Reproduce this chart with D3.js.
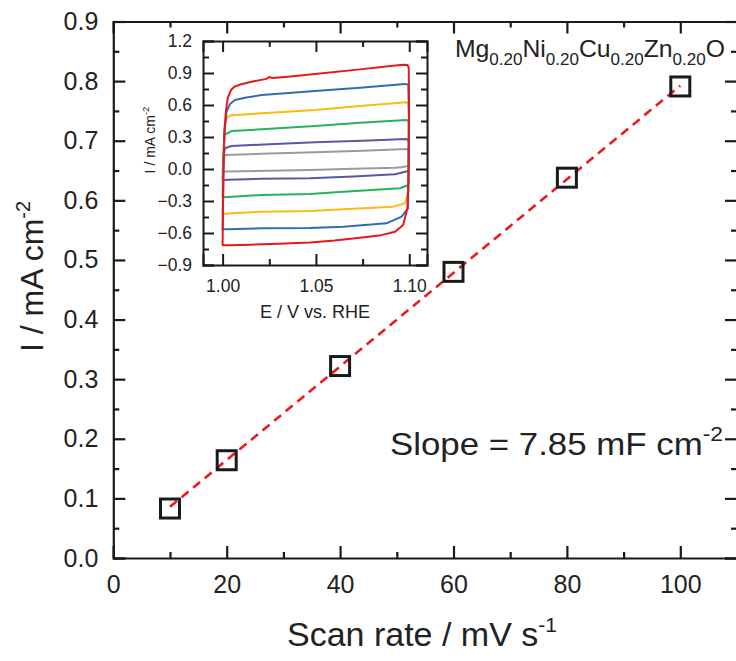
<!DOCTYPE html>
<html><head><meta charset="utf-8">
<script src="https://cdn.jsdelivr.net/npm/d3@7"></script>
<style>
body{margin:0;background:#fff}
svg{display:block;font-family:"Liberation Sans",Arial,Helvetica,sans-serif}
</style>
</head><body>
<svg id="chart" width="736" height="661"></svg>
<script>
// Double-layer capacitance: current at the middle of the window vs scan rate
const scanRates = [10, 20, 40, 60, 80, 100];                    // mV s^-1
const currents  = [0.083, 0.164, 0.322, 0.480, 0.638, 0.791];   // mA cm^-2
const slopeValue = 7.85;      // mF cm^-2
const fitIntercept = 0.0074;  // mA cm^-2
const mainXTicks = [0, 20, 40, 60, 80, 100];
const mainYTicks = [0.0, 0.1, 0.2, 0.3, 0.4, 0.5, 0.6, 0.7, 0.8, 0.9];

// Inset: cyclic voltammograms, [E / V vs RHE, I / mA cm^-2]
const insetXTicks = [1.00, 1.05, 1.10];
const insetYTicks = [-0.9, -0.6, -0.3, 0.0, 0.3, 0.6, 0.9, 1.2];
const cvScanRates = [10, 20, 40, 60, 80, 100];
const cvColors = ["#9b9b9b", "#5b56a4", "#25b35d", "#f9bb14", "#2f6db3", "#e8171c"];
const cv10 = [[1.000,-0.025],[1.0004,0.08],[1.0012,0.131],[1.0250,0.145],[1.0495,0.156],[1.0750,0.172],[1.0986,0.188],[1.0997,0.17],[1.0998,0.03],[1.0960,0.016],[1.0924,0.012],[1.0700,0.002],[1.0468,-0.009],[1.0250,-0.016],[1.003,-0.023],[1.000,-0.025]];
const cv20 = [[1.000,-0.103],[1.0004,0.10],[1.0012,0.194],[1.0048,0.216],[1.0250,0.232],[1.0495,0.250],[1.0750,0.265],[1.0986,0.281],[1.0997,0.26],[1.0998,0.0],[1.0995,-0.019],[1.0924,-0.05],[1.0700,-0.070],[1.0468,-0.087],[1.0210,-0.092],[1.003,-0.100],[1.000,-0.103]];
const cv40 = [[1.000,-0.265],[1.0003,0.0],[1.0009,0.319],[1.0048,0.356],[1.0210,0.372],[1.0495,0.403],[1.0736,0.434],[1.0986,0.459],[1.0997,0.44],[1.0998,0.10],[1.0996,-0.15],[1.0950,-0.181],[1.0647,-0.213],[1.0468,-0.234],[1.0210,-0.244],[1.003,-0.262],[1.000,-0.265]];
const cv60 = [[1.000,-0.422],[1.0002,-0.15],[1.0006,0.20],[1.0012,0.444],[1.0030,0.490],[1.0048,0.505],[1.0210,0.522],[1.0495,0.553],[1.0736,0.591],[1.0986,0.625],[1.0997,0.60],[1.0998,0.20],[1.0996,-0.213],[1.0977,-0.322],[1.0914,-0.353],[1.0647,-0.378],[1.0468,-0.394],[1.0210,-0.400],[1.003,-0.418],[1.000,-0.422]];
const cv80 = [[1.000,-0.566],[1.0002,-0.30],[1.0005,0.10],[1.0010,0.35],[1.0021,0.537],[1.0040,0.610],[1.0066,0.647],[1.0120,0.668],[1.0210,0.694],[1.0495,0.731],[1.0736,0.762],[1.0977,0.798],[1.0995,0.79],[1.0998,0.50],[1.0997,0.0],[1.0993,-0.37],[1.0959,-0.447],[1.0878,-0.509],[1.0647,-0.541],[1.0468,-0.553],[1.0210,-0.556],[1.003,-0.566],[1.000,-0.566]];
const cv100 = [[1.000,-0.715],[1.0002,-0.40],[1.0005,0.0],[1.0010,0.35],[1.0018,0.55],[1.0028,0.67],[1.0045,0.74],[1.0066,0.775],[1.0100,0.795],[1.0155,0.818],[1.0235,0.845],[1.0250,0.862],[1.0270,0.852],[1.0350,0.864],[1.0495,0.890],[1.0736,0.934],[1.0900,0.965],[1.0967,0.978],[1.0990,0.975],[1.0997,0.95],[1.0999,0.60],[1.0998,0.30],[1.0995,-0.10],[1.0990,-0.37],[1.0967,-0.525],[1.0924,-0.588],[1.0850,-0.620],[1.0736,-0.644],[1.0600,-0.670],[1.0468,-0.690],[1.0300,-0.700],[1.0150,-0.710],[1.003,-0.715],[1.000,-0.715]];
const cvCurves = [cv10, cv20, cv40, cv60, cv80, cv100];

const svg = d3.select("#chart");
const ink = "#1a1a1a";

// ---------- main panel ----------
const x = d3.scaleLinear().domain([0, 110]).range([113.3, 737]);
const y = d3.scaleLinear().domain([0, 0.9]).range([558, 21.5]);

function styleAxis(g, w) {
  g.select(".domain").attr("stroke", ink).attr("stroke-width", w);
  g.selectAll(".tick line").attr("stroke", ink).attr("stroke-width", w);
}
function addAxis(axis, tx, ty, w, keepDomain) {
  const g = svg.append("g").attr("transform", `translate(${tx},${ty})`).call(axis);
  if (!keepDomain) g.select(".domain").remove();
  styleAxis(g, w);
  g.selectAll("text").attr("fill", "#222").attr("font-family", null);
  return g;
}

const minorX = d3.range(10, 111, 20);
const minorY = d3.range(0.05, 0.9, 0.1);
const mainW = 2.2;

addAxis(d3.axisBottom(x).tickValues(mainXTicks).tickSize(-12).tickPadding(17).tickFormat(d3.format("d")), 0, y(0), mainW, true)
  .selectAll("text").attr("font-size", 25);
addAxis(d3.axisBottom(x).tickValues(minorX).tickSize(-6).tickFormat(""), 0, y(0), mainW, false);
addAxis(d3.axisTop(x).tickValues(mainXTicks).tickSize(-12).tickFormat(""), 0, y(0.9), mainW, true);
addAxis(d3.axisTop(x).tickValues(minorX).tickSize(-6).tickFormat(""), 0, y(0.9), mainW, false);
addAxis(d3.axisLeft(y).tickValues(mainYTicks).tickSize(-12).tickPadding(15).tickFormat(d3.format(".1f")), x(0), 0, mainW, true)
  .selectAll("text").attr("font-size", 25);
addAxis(d3.axisLeft(y).tickValues(minorY).tickSize(-6).tickFormat(""), x(0), 0, mainW, false);
addAxis(d3.axisRight(y).tickValues(mainYTicks).tickSize(-12).tickFormat(""), x(110), 0, mainW, true);
addAxis(d3.axisRight(y).tickValues(minorY).tickSize(-6).tickFormat(""), x(110), 0, mainW, false);

// axis titles
svg.append("text").attr("x", 287).attr("y", 646)
  .attr("font-size", 34).attr("fill", "#222")
  .attr("textLength", 270).attr("lengthAdjust", "spacingAndGlyphs")
  .call(t => { t.append("tspan").text("Scan rate / mV s");
               t.append("tspan").attr("dy", -14).attr("font-size", 21).text("-1"); });
svg.append("text").attr("transform", "translate(43,352) rotate(-90)")
  .attr("font-size", 32).attr("fill", "#222")
  .call(t => { t.append("tspan").text("I / mA cm");
               t.append("tspan").attr("dy", -13).attr("font-size", 20).text("-2"); });

// linear fit
const slope = slopeValue / 1000;
const fitLine = d3.line().x(d => x(d)).y(d => y(slope * d + fitIntercept));
svg.append("path").datum([scanRates[0], scanRates[scanRates.length - 1]])
  .attr("d", fitLine).attr("fill", "none").attr("stroke", "#f01818")
  .attr("stroke-width", 2.6).attr("stroke-dasharray", "9,6");

// data squares
const sq = 19;
svg.append("g").selectAll("rect").data(scanRates.map((s, i) => [s, currents[i]])).join("rect")
  .attr("x", d => x(d[0]) - sq / 2).attr("y", d => y(d[1]) - sq / 2)
  .attr("width", sq).attr("height", sq)
  .attr("fill", "none").attr("stroke", ink).attr("stroke-width", 3);

// material label
svg.append("text").attr("x", 455).attr("y", 57).attr("font-size", 24).attr("fill", "#222")
  .attr("textLength", 270).attr("lengthAdjust", "spacingAndGlyphs")
  .call(t => {
    const parts = [["Mg", "0.20"], ["Ni", "0.20"], ["Cu", "0.20"], ["Zn", "0.20"], ["O", null]];
    parts.forEach(([el, sub], i) => {
      t.append("tspan").attr("dy", i === 0 ? 0 : -8).text(el);
      if (sub) t.append("tspan").attr("dy", 8).attr("font-size", 16.5).text(sub);
    });
  });

// slope label
svg.append("text").attr("x", 390).attr("y", 455).attr("font-size", 32).attr("fill", "#222")
  .attr("textLength", 333).attr("lengthAdjust", "spacingAndGlyphs")
  .call(t => { t.append("tspan").text(`Slope = ${slopeValue.toFixed(2)} mF cm`);
               t.append("tspan").attr("dy", -14).attr("font-size", 21).text("-2"); });

// ---------- inset ----------
const ix = d3.scaleLinear().domain([0.9895, 1.1095]).range([203, 427]);
const iy = d3.scaleLinear().domain([-0.9, 1.2]).range([265, 41]);
const ixMinor = [1.025, 1.075];
const iyMinor = d3.range(-0.75, 1.2, 0.3);

svg.append("rect").attr("x", 203).attr("y", 41).attr("width", 224).attr("height", 224)
  .attr("fill", "#fff");

const cvLine = d3.line().x(d => ix(d[0])).y(d => iy(d[1])).curve(d3.curveLinearClosed);
svg.append("g").selectAll("path").data(cvCurves).join("path")
  .attr("d", cvLine).attr("fill", "none")
  .attr("stroke", (d, i) => cvColors[i]).attr("stroke-width", 2)
  .attr("stroke-linejoin", "round");

const inW = 2;
addAxis(d3.axisBottom(ix).tickValues(insetXTicks).tickSize(-11).tickPadding(15).tickFormat(d3.format(".2f")), 0, 265, inW, true)
  .selectAll("text").attr("font-size", 17.5);
addAxis(d3.axisBottom(ix).tickValues(ixMinor).tickSize(-6).tickFormat(""), 0, 265, inW, false);
addAxis(d3.axisTop(ix).tickValues(insetXTicks).tickSize(-11).tickFormat(""), 0, 41, inW, true);
addAxis(d3.axisTop(ix).tickValues(ixMinor).tickSize(-6).tickFormat(""), 0, 41, inW, false);
addAxis(d3.axisLeft(iy).tickValues(insetYTicks).tickSize(-11).tickPadding(11).tickFormat(d3.format(".1f")), 203, 0, inW, true)
  .selectAll("text").attr("font-size", 17.5);
addAxis(d3.axisLeft(iy).tickValues(iyMinor).tickSize(-6).tickFormat(""), 203, 0, inW, false);
addAxis(d3.axisRight(iy).tickValues(insetYTicks).tickSize(-11).tickFormat(""), 427, 0, inW, true);
addAxis(d3.axisRight(iy).tickValues(iyMinor).tickSize(-6).tickFormat(""), 427, 0, inW, false);

svg.append("text").attr("x", 315).attr("y", 318).attr("text-anchor", "middle")
  .attr("font-size", 18).attr("fill", "#222").text("E / V vs. RHE");
svg.append("text").attr("transform", "translate(155,140) rotate(-90)").attr("text-anchor", "middle")
  .attr("font-size", 14).attr("fill", "#222")
  .call(t => { t.append("tspan").text("I / mA cm");
               t.append("tspan").attr("dy", -6).attr("font-size", 9.5).text("-2"); });
</script>
</body></html>
